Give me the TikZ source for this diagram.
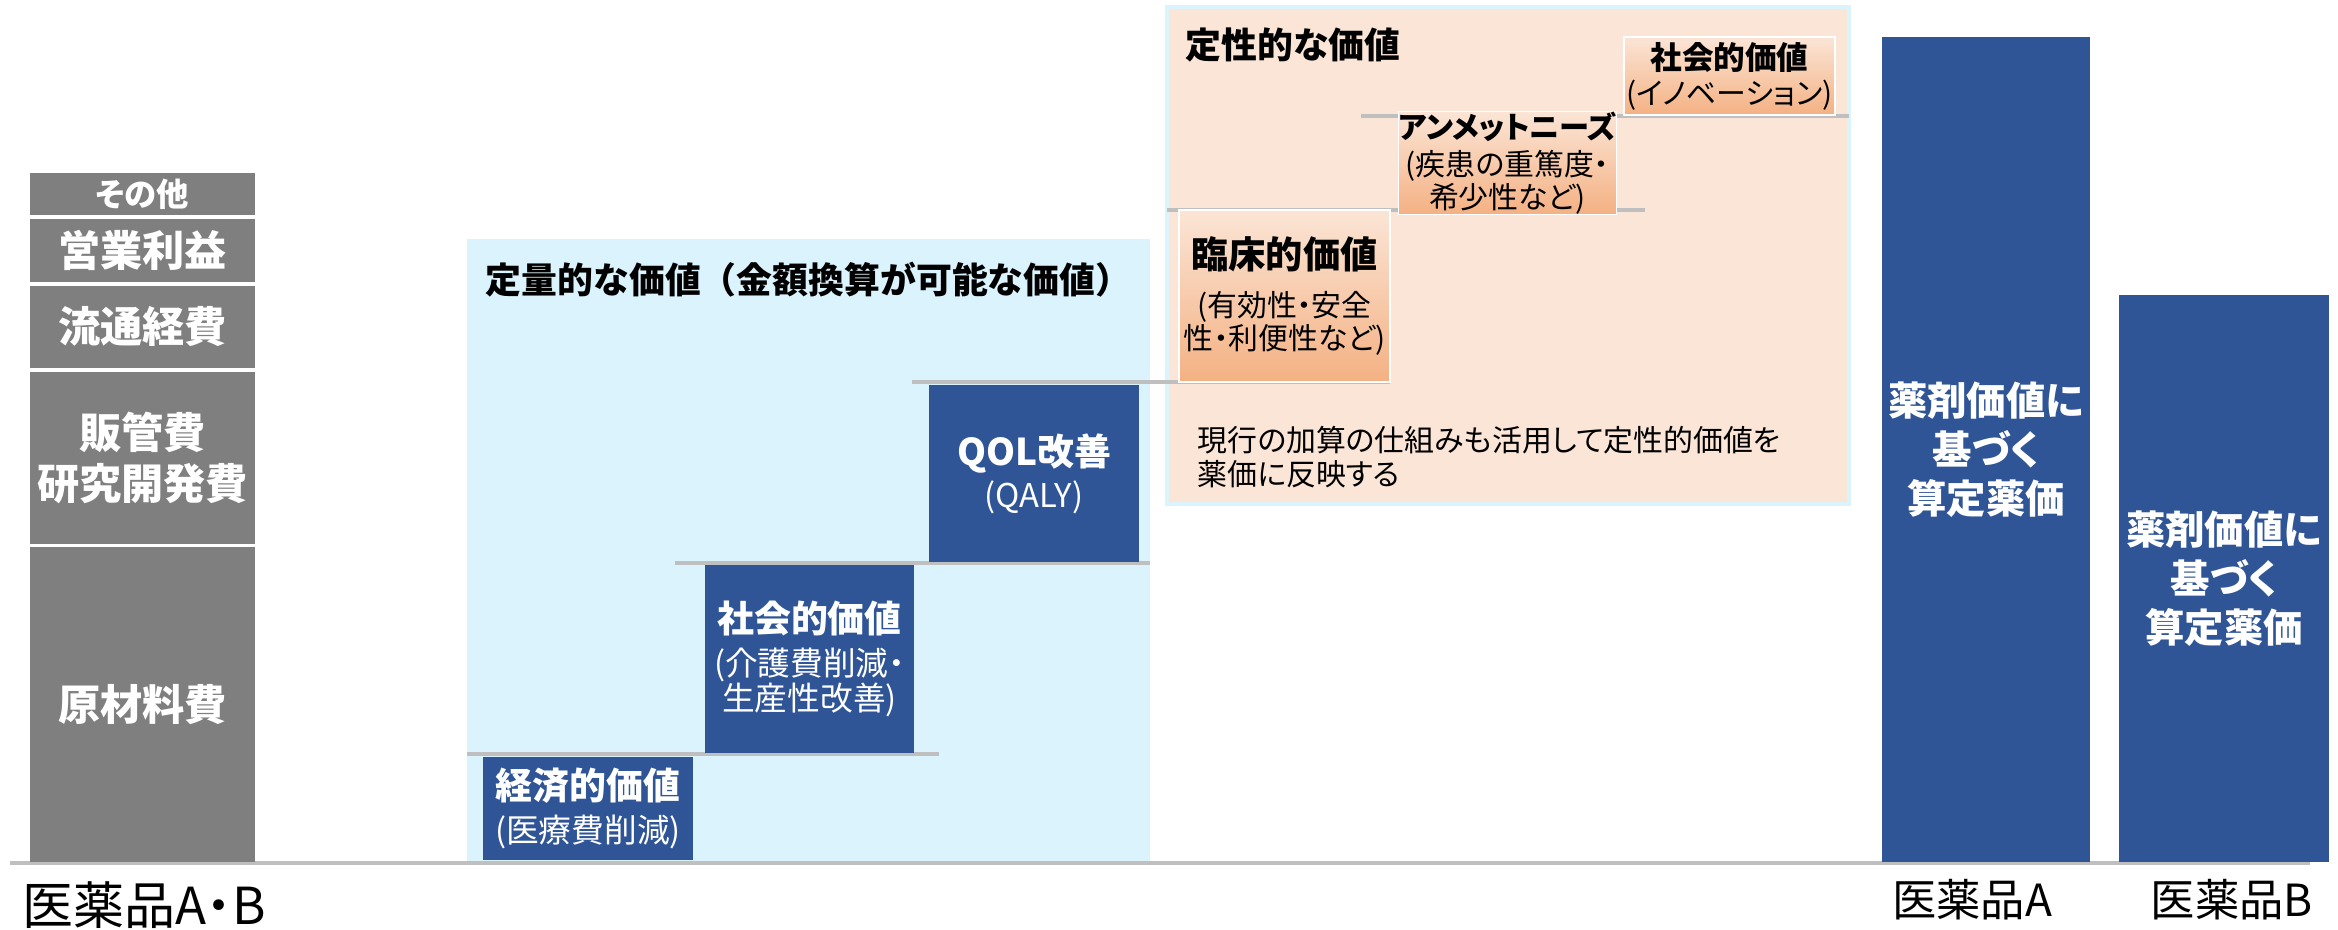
\documentclass[tikz,border=0pt]{standalone}
\usepackage{fontspec}
\setmainfont{Noto Sans CJK JP}[RawFeature=+palt]
\usetikzlibrary{positioning}
\definecolor{valblue}{RGB}{47,85,151}
\definecolor{costgray}{RGB}{127,127,127}
\definecolor{quantbg}{RGB}{218,243,252}
\definecolor{qualbg}{RGB}{251,229,214}
\definecolor{qualdark}{RGB}{244,177,131}
\definecolor{stepgray}{RGB}{191,191,191}
\tikzset{
	every node/.style={inner sep=0pt},
	stepline/.style={draw=stepgray, line width=0.9pt},
}
\begin{document}
\begin{tikzpicture}
[x=0.01cm, y=-0.01cm,
cost/.style ={rectangle, fill=costgray, text=white,
minimum width=2.25cm, align=center,
font={\fontsize{12}{14.4}\selectfont\bfseries}},
quant/.style ={rectangle, fill=valblue, text=white,
minimum width=2.1cm, align=center,
font={\fontsize{9.3}{10}\selectfont}},
qual/.style ={rectangle, draw=white, thin, top color=qualbg,
bottom color=qualdark, minimum width=2.1cm, align=center,
font={\fontsize{8.5}{9.5}\selectfont}},
pricebar/.style ={rectangle, fill=valblue, text=white,
minimum width=2.09cm, align=center,
font={\fontsize{11.2}{14}\selectfont\bfseries}},
prodlabel/.style ={font={\fontsize{12.6}{14}\selectfont}},
area title/.style ={anchor=west, font={\fontsize{10.2}{12}\selectfont\bfseries}}]
\useasboundingbox (0,0) rectangle (2338,929);
% areas
\node[rectangle, fill=quantbg, minimum width=6.83cm, minimum height=6.23cm]
 (quantarea) at (808.5,550.5) {};
\node[rectangle, fill=qualbg, draw=quantbg, line width=1pt,
 minimum width=6.82cm, minimum height=4.97cm] (qualarea) at (1508,255.5) {};
\node[area title, font={\fontsize{10.2}{12}\selectfont\bfseries\addfontfeatures{RawFeature=-palt}}]
 (quanttitle) at (485,280) {定量的な価値（金額換算が可能な価値）};
\node[area title] (qualtitle) at (1185,45) {定性的な価値};
% steps
\draw[stepline] (10,863) -- (2310,863);
\draw[stepline] (467,754) -- (939,754);
\draw[stepline] (675,563) -- (1150,563);
\draw[stepline] (912,382) -- (1390,382);
\draw[stepline] (1167,210) -- (1645,210);
\draw[stepline] (1361,116) -- (1849,116);
% cost breakdown
\node[cost, minimum height=0.42cm, font={\fontsize{9.2}{11}\selectfont\bfseries}]
 (other) at (142.5,194) {その他};
\node[cost, minimum height=0.63cm] (profit) at (142.5,250.5) {営業利益};
\node[cost, minimum height=0.82cm] (dist) at (142.5,327) {流通経費};
\node[cost, minimum height=1.72cm] (sga) at (142.5,458) {販管費\\研究開発費};
\node[cost, minimum height=3.15cm] (material) at (142.5,704.5) {原材料費};
% quantitative values
\node[quant, minimum height=1.03cm] (econ) at (588,808.5)
 {{\fontsize{10.5}{10}\selectfont\bfseries 経済的価値}\\[2.4pt](医療費削減)};
\node[quant, minimum width=2.09cm, minimum height=1.88cm] (social) at (809.5,659)
 {{\fontsize{10.5}{10}\selectfont\bfseries 社会的価値}\\[2.4pt](介護費削減・\\生産性改善)};
\node[quant, minimum height=1.77cm] (qol) at (1034,473.5)
 {{\fontsize{10.5}{10}\selectfont\bfseries QOL改善}\\[2pt](QALY)};
% qualitative values
\node[qual, minimum width=2.11cm, minimum height=1.72cm] (clinical) at (1284.5,296)
 {{\fontsize{10.6}{10}\selectfont\bfseries 臨床的価値}\\[4pt](有効性・安全\\性・利便性など)};
\node[qual, minimum width=2.11cm, minimum height=0.94cm] (unmet) at (1507.5,163)
 {{\fontsize{8.6}{10}\selectfont\bfseries アンメットニーズ}\\[1pt](疾患の重篤度・\\希少性など)};
\node[qual, minimum width=2.11cm, minimum height=0.78cm] (innov) at (1729.5,76)
 {{\fontsize{9}{10}\selectfont\bfseries 社会的価値}\\[0.5pt](イノベーション)};
\node[anchor=west, align=left, font={\fontsize{8.5}{9.7}\selectfont}] (note) at (1197,457)
 {現行の加算の仕組みも活用して定性的価値を\\薬価に反映する};
% price bars
\node[pricebar, minimum width=2.08cm, minimum height=8.25cm] (drugA) at (1986,449.5)
 {薬剤価値に\\基づく\\算定薬価};
\node[pricebar, minimum width=2.10cm, minimum height=5.67cm] (drugB) at (2224,578.5)
 {薬剤価値に\\基づく\\算定薬価};
% labels
\node[prodlabel, anchor=west, font={\fontsize{14.5}{16}\selectfont}] (labelAB) at (22,905) {医薬品A・B};
\node[prodlabel] (labelA) at (1972,900) {医薬品A};
\node[prodlabel] (labelB) at (2232,900) {医薬品B};
\end{tikzpicture}
\end{document}
